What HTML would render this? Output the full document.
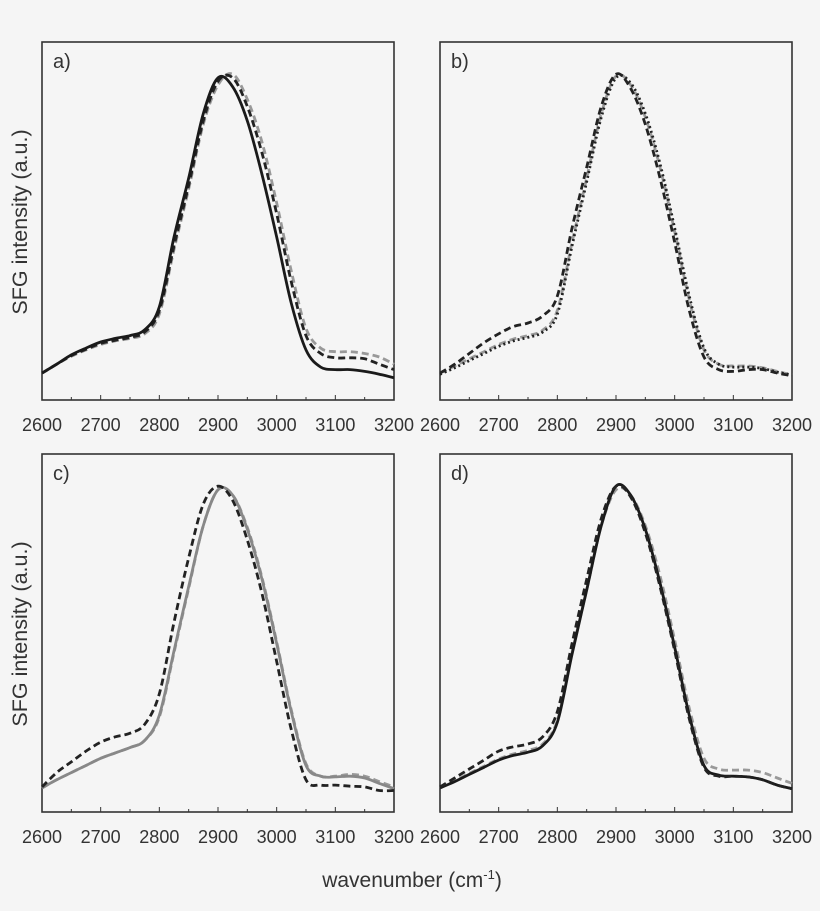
<!DOCTYPE html>
<html><head><meta charset="utf-8"><style>
html,body{margin:0;padding:0;background:#f5f5f5;}
svg{display:block;font-family:"Liberation Sans",Arial,sans-serif;}
</style></head><body>
<svg id="chart" width="820" height="911" viewBox="0 0 820 911">
<rect width="820" height="911" fill="#f5f5f5"/>
</svg>
<script>
const wavenumbers=[2600,2625,2650,2675,2700,2725,2750,2775,2800,2825,2850,2875,2900,2925,2950,2975,3000,3025,3050,3075,3100,3125,3150,3175,3200];
const xTicks=[2600,2700,2800,2900,3000,3100,3200];
const panelLabels=["a)","b)","c)","d)"];
const aSolidBlack=[0.075,0.10,0.126,0.145,0.162,0.172,0.18,0.196,0.26,0.455,0.62,0.80,0.90,0.875,0.78,0.63,0.455,0.27,0.14,0.092,0.085,0.085,0.08,0.072,0.062];
const aDashBlack=[0.075,0.10,0.124,0.142,0.158,0.167,0.175,0.19,0.25,0.43,0.60,0.78,0.89,0.90,0.82,0.69,0.52,0.33,0.18,0.13,0.118,0.118,0.115,0.10,0.085];
const aDashGray=[0.075,0.10,0.122,0.14,0.155,0.165,0.172,0.185,0.24,0.42,0.59,0.77,0.88,0.91,0.84,0.72,0.55,0.36,0.20,0.145,0.135,0.135,0.13,0.12,0.10];
const bDashGray=[0.075,0.095,0.115,0.135,0.155,0.17,0.18,0.195,0.25,0.44,0.62,0.80,0.905,0.88,0.79,0.65,0.47,0.28,0.14,0.10,0.095,0.095,0.09,0.08,0.07];
const bDashBlack=[0.075,0.10,0.13,0.16,0.185,0.205,0.215,0.235,0.29,0.48,0.65,0.82,0.91,0.87,0.77,0.62,0.44,0.25,0.12,0.085,0.08,0.085,0.085,0.075,0.068];
const bDotBlack=[0.072,0.09,0.11,0.13,0.15,0.165,0.175,0.19,0.24,0.43,0.61,0.79,0.90,0.885,0.80,0.66,0.48,0.29,0.145,0.10,0.092,0.092,0.088,0.078,0.07];
const cSolidGray=[0.067,0.09,0.11,0.13,0.15,0.165,0.18,0.20,0.27,0.45,0.63,0.80,0.90,0.885,0.79,0.65,0.47,0.28,0.13,0.10,0.098,0.10,0.095,0.08,0.065];
const cDashBlack=[0.07,0.11,0.14,0.17,0.195,0.21,0.22,0.245,0.33,0.53,0.71,0.86,0.91,0.87,0.76,0.61,0.42,0.23,0.09,0.075,0.075,0.072,0.07,0.06,0.06];
const cDashGray=[0.067,0.09,0.11,0.13,0.15,0.165,0.18,0.20,0.265,0.445,0.625,0.80,0.90,0.885,0.795,0.655,0.475,0.285,0.135,0.10,0.10,0.105,0.10,0.085,0.07];
const dSolidBlack=[0.067,0.085,0.105,0.125,0.145,0.158,0.167,0.185,0.25,0.44,0.62,0.80,0.91,0.885,0.79,0.64,0.46,0.27,0.13,0.103,0.10,0.098,0.09,0.075,0.065];
const dDashGray=[0.067,0.087,0.108,0.128,0.148,0.162,0.172,0.19,0.255,0.445,0.62,0.80,0.90,0.885,0.80,0.66,0.48,0.29,0.15,0.12,0.117,0.117,0.11,0.095,0.08];
const dDashBlack=[0.07,0.095,0.12,0.145,0.17,0.182,0.19,0.21,0.28,0.47,0.65,0.82,0.91,0.88,0.78,0.63,0.45,0.26,0.125,0.10,0.10,0.098,0.09,0.075,0.065];

const NS="http://www.w3.org/2000/svg";
const svg=document.getElementById('chart');
function mk(tag,attrs,parent){const e=document.createElementNS(NS,tag);for(const k in attrs)e.setAttribute(k,attrs[k]);(parent||svg).appendChild(e);return e;}
const panels=[
 {x0:42,x1:394,y0:42,y1:400,series:[[aDashGray,'#999','7,4'],[aDashBlack,'#222','7,4'],[aSolidBlack,'#1a1a1a','']]},
 {x0:440,x1:792,y0:42,y1:400,series:[[bDashGray,'#999','7,4'],[bDotBlack,'#222','2,3'],[bDashBlack,'#222','7,4']]},
 {x0:42,x1:394,y0:454,y1:812,series:[[cDashGray,'#999','7,4'],[cSolidGray,'#888',''],[cDashBlack,'#222','7,4']]},
 {x0:440,x1:792,y0:454,y1:812,series:[[dDashGray,'#999','7,4'],[dSolidBlack,'#1a1a1a',''],[dDashBlack,'#222','7,4']]}
];
panels.forEach((p,pi)=>{
  const g=mk('g',{});
  
  
  const xs=v=>p.x0+(v-2600)/600*(p.x1-p.x0);
  const ys=v=>p.y1-v*(p.y1-p.y0);
  const fr=mk('rect',{x:p.x0,y:p.y0,width:p.x1-p.x0,height:p.y1-p.y0,fill:'none',stroke:'#333','stroke-width':1.6},g);
  
  
  for(let t=2600;t<=3200;t+=50){
    const tk=mk('line',{x1:xs(t),x2:xs(t),y1:p.y1,y2:p.y1-(t%100===0?5:3),stroke:'#333','stroke-width':1},g);
    
    
  }
  xTicks.forEach(t=>{
    const tl=mk('text',{x:xs(t),y:p.y1+31,'text-anchor':'middle','font-size':18,fill:'#333'},g);
    tl.textContent=t;
    
    
  });
  const lb=mk('text',{x:p.x0+11,y:p.y0+26,'font-size':20,fill:'#333'},g);
  lb.textContent=panelLabels[pi];
  
  
  p.series.forEach((s,si)=>{
    const pts=s[0].map((v,i)=>[xs(wavenumbers[i]),ys(v)]);
    let d='M'+pts[0][0].toFixed(1)+','+pts[0][1].toFixed(1);
    for(let i=0;i<pts.length-1;i++){
      const p0=pts[Math.max(0,i-1)],p1=pts[i],p2=pts[i+1],p3=pts[Math.min(pts.length-1,i+2)];
      const c1=[p1[0]+(p2[0]-p0[0])/6,p1[1]+(p2[1]-p0[1])/6];
      const c2=[p2[0]-(p3[0]-p1[0])/6,p2[1]-(p3[1]-p1[1])/6];
      d+=' C'+c1.map(n=>n.toFixed(1)).join(',')+' '+c2.map(n=>n.toFixed(1)).join(',')+' '+p2.map(n=>n.toFixed(1)).join(',');
    }
    const path=mk('path',{d:d,fill:'none',stroke:s[1],'stroke-width':2.8,'stroke-dasharray':s[2]||'none','stroke-linejoin':'round'},g);
    
    
  });
  if(pi%2===0){
    const cy=(p.y0+p.y1)/2+1;
    const yl=mk('text',{x:27,y:cy,'text-anchor':'middle','font-size':21.5,fill:'#333',transform:'rotate(-90 27 '+cy+')'},g);
    yl.textContent='SFG intensity (a.u.)';
    
    
  }
});
const xl=mk('text',{x:412,y:887,'text-anchor':'middle','font-size':21,fill:'#333'});
xl.innerHTML='wavenumber (cm<tspan dy="-8" font-size="13">-1</tspan><tspan dy="8">)</tspan>';


</script>
</body></html>
